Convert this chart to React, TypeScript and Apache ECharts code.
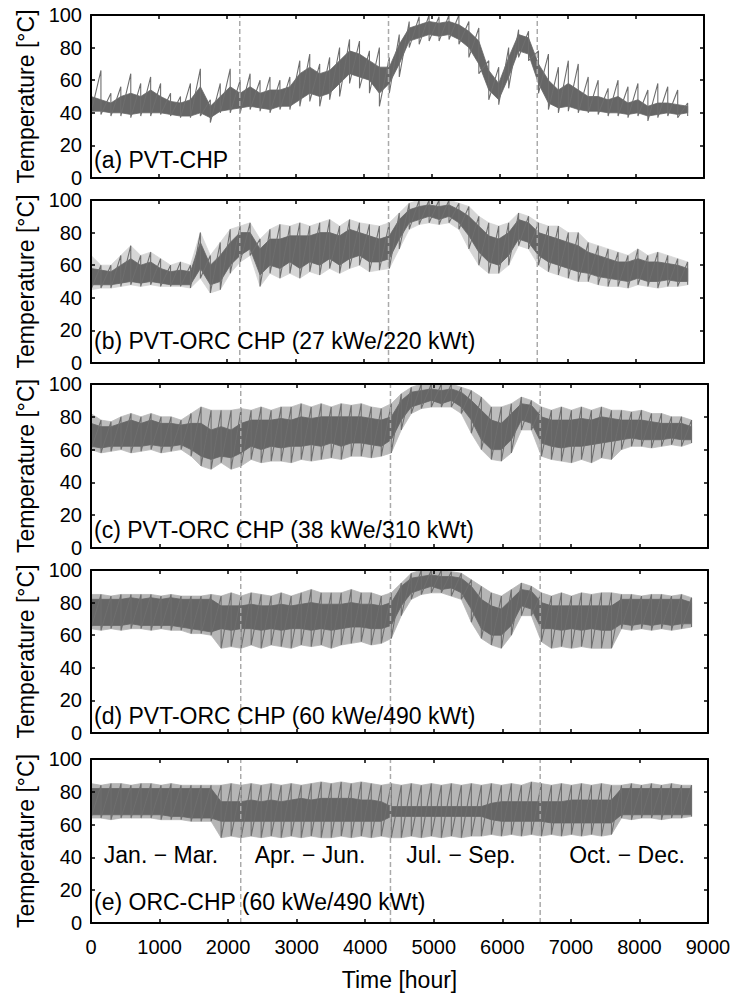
import React, { useEffect, useRef } from "react";
import * as echarts from "echarts";

// Sample hours (every 146 h over the year) at which each trace was read.
const HOURS = [
  0, 146, 292, 438, 584, 730, 876, 1022, 1168, 1314, 1460, 1606, 1752, 1898, 2044, 2190,
  2336, 2482, 2628, 2774, 2920, 3066, 3212, 3358, 3504, 3650, 3796, 3942, 4088, 4234, 4380,
  4526, 4672, 4818, 4964, 5110, 5256, 5402, 5548, 5694, 5840, 5986, 6132, 6278, 6424, 6570,
  6716, 6862, 7008, 7154, 7300, 7446, 7592, 7738, 7884, 8030, 8176, 8322, 8468, 8614, 8760,
];

// For each panel: dense core band (CORE_LO..CORE_HI) and the extreme swings (PEAK_LO..PEAK_HI), °C.
// (a) PVT-CHP
const A_CORE_LO = [41,41,40,40,39,40,40,40,39,38,38,40,37,41,42,43,44,43,42,44,44,48,52,50,52,58,64,62,60,52,58,70,84,86,88,87,88,85,80,70,54,48,62,78,76,58,46,43,44,42,41,41,40,40,39,40,38,39,40,39,40];
const A_CORE_HI = [50,48,46,50,52,50,54,50,47,46,48,56,44,50,56,52,56,52,54,54,56,64,68,64,66,72,78,76,72,68,68,82,92,94,96,95,96,94,90,84,66,58,74,88,86,70,60,54,58,54,50,50,48,50,46,48,44,46,46,45,44];
const A_PEAK_LO = [40,39,38,38,37,38,38,39,38,37,37,38,34,40,40,40,42,41,40,42,42,44,47,44,48,50,58,55,52,44,52,62,80,82,84,84,85,82,74,64,48,45,55,74,72,52,42,40,41,40,40,39,38,38,37,38,35,37,38,37,38];
const A_PEAK_HI = [55,66,52,56,64,58,62,58,52,50,58,67,48,58,67,60,64,60,62,60,62,72,76,70,74,80,85,84,78,80,74,88,96,99,100,99,100,100,96,92,72,68,80,91,90,78,76,68,72,70,62,60,55,60,56,58,54,58,56,54,46];

// (b) PVT-ORC CHP (27 kWe/220 kWt)
const B_CORE_LO = [48,48,48,49,50,49,50,49,48,48,48,58,48,50,60,66,70,54,60,58,62,58,62,60,64,60,64,66,62,62,64,76,86,88,90,88,90,86,78,68,62,60,66,76,74,66,62,60,58,56,55,53,52,51,50,52,50,50,51,50,50];
const B_CORE_HI = [58,57,56,60,64,60,62,58,56,57,56,74,60,66,74,80,80,70,76,76,78,78,78,80,80,78,82,80,78,76,78,88,94,96,97,96,97,94,90,84,78,76,80,88,86,80,78,76,74,72,68,66,64,62,62,64,62,62,61,60,58];
const B_PEAK_LO = [45,46,46,47,48,47,48,47,47,47,46,52,43,45,55,62,66,47,55,52,55,52,56,54,58,55,58,60,56,57,58,70,82,85,86,85,86,82,70,60,55,55,60,72,70,60,56,54,52,50,50,48,47,47,46,48,47,46,47,47,48];
const B_PEAK_HI = [66,60,60,66,72,66,68,64,60,62,60,80,66,74,82,84,86,76,82,85,84,86,84,86,88,84,88,86,85,84,86,92,98,100,100,100,100,98,96,90,86,84,86,92,90,86,84,84,80,80,74,72,70,68,66,70,66,68,66,64,62];

// (c) PVT-ORC CHP (38 kWe/310 kWt)
const C_CORE_LO = [62,61,62,62,62,62,63,62,62,63,60,56,54,56,55,58,62,60,62,61,62,62,63,62,64,62,64,64,63,62,66,78,86,88,90,88,90,86,78,66,60,60,66,78,76,64,62,61,62,62,63,64,65,66,67,66,66,66,67,66,66];
const C_CORE_HI = [76,74,74,76,78,76,78,76,76,75,76,76,72,74,72,76,78,78,78,79,78,80,79,80,80,80,80,80,79,78,80,90,95,96,97,96,97,95,90,84,78,76,82,88,87,80,78,78,78,79,78,80,79,78,78,78,77,76,76,76,74];
const C_PEAK_LO = [60,58,59,60,58,59,60,58,59,60,56,50,48,52,48,50,54,52,53,53,52,54,53,54,55,54,56,56,55,56,58,72,82,85,86,86,86,82,70,60,54,53,58,72,72,56,54,53,52,54,52,55,54,60,62,62,61,62,63,62,64];
const C_PEAK_HI = [82,78,77,80,82,80,82,80,80,78,82,86,84,84,84,85,84,86,84,86,86,88,86,88,86,88,87,88,86,85,88,94,98,100,100,100,100,98,96,92,86,86,88,92,90,86,84,86,84,86,84,86,84,84,83,84,82,82,80,80,78];

// (d) PVT-ORC CHP (60 kWe/490 kWt)
const D_CORE_LO = [66,66,66,66,67,66,66,66,66,65,64,63,62,64,63,64,64,63,64,63,64,64,63,64,63,64,65,65,64,64,66,78,86,88,90,88,89,86,76,64,60,60,66,78,76,64,64,63,64,63,64,63,63,67,66,67,66,67,66,67,67];
const D_CORE_HI = [82,82,82,82,83,82,83,82,83,82,82,82,82,78,78,78,79,78,78,79,78,79,80,79,79,79,80,79,79,78,80,90,95,96,97,96,96,95,90,82,78,76,82,88,87,80,78,78,78,78,78,78,78,82,82,82,82,82,82,82,80];
const D_PEAK_LO = [64,63,64,63,64,64,63,64,63,63,61,61,60,52,53,52,54,52,54,53,52,54,53,54,52,54,55,56,54,55,58,72,82,85,86,86,84,82,68,58,54,52,60,72,72,56,52,53,52,53,52,52,52,64,63,64,63,64,63,64,65];
const D_PEAK_HI = [85,85,84,85,85,85,85,84,85,84,84,84,85,84,86,84,86,85,84,86,84,86,88,86,86,86,88,86,86,84,86,92,98,100,100,100,99,98,94,90,86,84,88,92,90,86,84,86,84,86,85,86,86,85,85,84,85,85,84,85,83];

// (e) ORC-CHP (60 kWe/490 kWt)
const E_CORE_LO = [66,66,66,66,66,66,66,66,65,65,64,64,64,62,62,62,62,62,62,62,62,62,62,62,62,62,62,62,62,62,65,65,65,65,65,65,65,65,65,65,63,62,62,62,62,62,61,61,61,61,61,61,61,66,66,66,66,66,66,66,66];
const E_CORE_HI = [82,82,82,82,82,82,82,82,82,82,82,82,82,74,74,74,75,74,75,74,75,76,75,76,76,76,76,75,75,74,71,71,71,71,71,71,71,71,71,71,73,74,74,74,74,74,74,74,75,75,75,75,75,82,82,82,82,82,82,82,82];
const E_PEAK_LO = [64,64,63,64,64,64,64,63,63,63,62,62,62,52,53,52,53,52,53,52,53,52,53,52,52,53,52,53,52,53,52,52,53,52,53,52,53,52,53,53,54,53,54,53,54,53,54,53,54,53,54,53,54,64,63,64,64,63,64,64,65];
const E_PEAK_HI = [85,84,85,85,84,85,85,84,85,84,84,84,84,84,85,84,85,84,85,84,85,84,85,86,85,86,85,86,85,84,85,84,85,84,85,84,85,84,85,84,85,84,85,84,86,85,84,85,84,85,84,85,84,84,85,84,85,84,85,84,84];

const PANELS = [
  { coreLo: A_CORE_LO, coreHi: A_CORE_HI, peakLo: A_PEAK_LO, peakHi: A_PEAK_HI },
  { coreLo: B_CORE_LO, coreHi: B_CORE_HI, peakLo: B_PEAK_LO, peakHi: B_PEAK_HI },
  { coreLo: C_CORE_LO, coreHi: C_CORE_HI, peakLo: C_PEAK_LO, peakHi: C_PEAK_HI },
  { coreLo: D_CORE_LO, coreHi: D_CORE_HI, peakLo: D_PEAK_LO, peakHi: D_PEAK_HI },
  { coreLo: E_CORE_LO, coreHi: E_CORE_HI, peakLo: E_PEAK_LO, peakHi: E_PEAK_HI },
];
const PANEL_LABELS = [
  "(a) PVT-CHP",
  "(b) PVT-ORC CHP (27 kWe/220 kWt)",
  "(c) PVT-ORC CHP (38 kWe/310 kWt)",
  "(d) PVT-ORC CHP (60 kWe/490 kWt)",
  "(e) ORC-CHP (60 kWe/490 kWt)",
];
const SEASONS = ["Jan. \u2212 Mar.", "Apr. \u2212 Jun.", "Jul. \u2212 Sep.", "Oct. \u2212 Dec."];
const QUARTER_BOUNDS = [2184, 4368, 6552];
const X_MIN = 0;
const X_MAX = 9000;
const X_STEP = 1000;
const Y_MIN = 0;
const Y_MAX = 100;
const Y_STEP = 20;
const X_NAME = "Time [hour]";
const Y_NAME = "Temperature [\u00b0C]";

// Layout (pixels) and styles
const GRIDS = [
  { top: 15, height: 163, width: 613 },
  { top: 200, height: 163, width: 613 },
  { top: 384, height: 164, width: 617 },
  { top: 570, height: 163, width: 617 },
  { top: 759, height: 164, width: 617 },
];
const SWING_FILL = [null, "#d6d6d6", "#bdbdbd", "#b5b5b5", "#b5b5b5"];
const LABEL_Y = [161, 342, 531, 717, 903];
const SEASON_X = [161, 310, 461, 627];
const SEASON_Y = 855;
const FONT = "'Liberation Sans', Arial, Helvetica, sans-serif";
const BAND = "#666666";
const SWING = "#6e6e6e";

export default function App() {
  const ref = useRef<HTMLDivElement>(null);
  useEffect(() => {
    if (!ref.current) return;
    const chart = echarts.init(ref.current, null, { renderer: "svg" });
    const axisLine = { onZero: false, lineStyle: { color: "#000", width: 2 } };
    const axisTick = { inside: true, length: 4, lineStyle: { color: "#000", width: 1.5 } };
    const grid: any[] = [];
    const xAxis: any[] = [];
    const yAxis: any[] = [];
    const series: any[] = [];
    const graphic: any[] = [];
    const bandSeries = (i: number, lo: number[], hi: number[], color: string, z: number) => ({
      type: "custom",
      xAxisIndex: 2 * i,
      yAxisIndex: 2 * i,
      data: HOURS.map((h, k) => [h, lo[k], hi[k]]),
      encode: { x: 0, y: [1, 2] },
      z,
      silent: true,
      renderItem: (params: any, api: any) => {
        if (params.dataIndex !== 0) return null;
        const pts: number[][] = [];
        for (let k = 0; k < HOURS.length; k++) pts.push(api.coord([HOURS[k], hi[k]]));
        for (let k = HOURS.length - 1; k >= 0; k--) pts.push(api.coord([HOURS[k], lo[k]]));
        return {
          type: "polygon",
          shape: { points: pts },
          style: { fill: color, stroke: color, lineWidth: 0.8 },
        };
      },
    });
    GRIDS.forEach((g, i) => {
      grid.push({ left: 91, top: g.top, width: g.width, height: g.height, containLabel: false });
      const last = i === GRIDS.length - 1;
      xAxis.push({
        gridIndex: i, type: "value", position: "bottom", min: X_MIN, max: X_MAX, interval: X_STEP,
        axisLine, axisTick, splitLine: { show: false },
        axisLabel: {
          show: last, color: "#000", fontSize: 20, margin: 14, fontFamily: FONT,
          formatter: (v: number) => String(v),
        },
        name: last ? X_NAME : "", nameLocation: "middle", nameGap: 45,
        nameTextStyle: { color: "#000", fontSize: 23, fontFamily: FONT },
        z: 5,
      });
      xAxis.push({
        gridIndex: i, type: "value", position: "top", min: X_MIN, max: X_MAX, interval: X_STEP,
        axisLine, axisTick, splitLine: { show: false }, axisLabel: { show: false }, z: 5,
      });
      yAxis.push({
        gridIndex: i, type: "value", position: "left", min: Y_MIN, max: Y_MAX, interval: Y_STEP,
        axisLine, axisTick, splitLine: { show: false },
        axisLabel: { color: "#000", fontSize: 20, margin: 9, fontFamily: FONT },
        name: Y_NAME, nameLocation: "middle", nameGap: 54, nameRotate: 90,
        nameTextStyle: { color: "#000", fontSize: 23, fontFamily: FONT },
        z: 5,
      });
      yAxis.push({
        gridIndex: i, type: "value", position: "right", min: Y_MIN, max: Y_MAX, interval: Y_STEP,
        axisLine, axisTick, splitLine: { show: false }, axisLabel: { show: false }, z: 5,
      });
      const p = PANELS[i];
      const sf = SWING_FILL[i];
      if (sf) series.push(bandSeries(i, p.peakLo, p.peakHi, sf, 1));
      series.push(bandSeries(i, p.coreLo, p.coreHi, BAND, 2));
      // extreme swings: a trace running from each peak down to its trough
      const swing: number[][] = [];
      HOURS.forEach((h, k) => {
        swing.push([h, p.peakHi[k]]);
        swing.push([h, p.peakLo[k]]);
      });
      series.push({
        type: "line",
        xAxisIndex: 2 * i,
        yAxisIndex: 2 * i,
        data: swing,
        symbol: "none",
        silent: true,
        z: 2,
        lineStyle: { color: SWING, width: 1.1 },
      });
      QUARTER_BOUNDS.forEach((b) => {
        series.push({
          type: "line",
          xAxisIndex: 2 * i,
          yAxisIndex: 2 * i,
          data: [[b, Y_MIN], [b, Y_MAX]],
          symbol: "none",
          silent: true,
          z: 3,
          lineStyle: { color: "#aaaaaa", width: 1.5, type: [5, 3] },
        });
      });
      graphic.push({
        type: "text", left: 94, top: LABEL_Y[i] - 13, z: 10,
        style: { text: PANEL_LABELS[i], fill: "#000", font: `23px ${FONT}` },
      });
    });
    SEASONS.forEach((s, j) => {
      graphic.push({
        type: "text", x: SEASON_X[j], y: SEASON_Y, z: 10,
        style: { text: s, fill: "#000", font: `23px ${FONT}`, textAlign: "center", textVerticalAlign: "middle" },
      });
    });
    chart.setOption({
      animation: false,
      backgroundColor: "#fff",
      textStyle: { fontFamily: FONT },
      grid, xAxis, yAxis, series, graphic,
    });
    return () => chart.dispose();
  }, []);
  return <div ref={ref} style={{ position: "absolute", left: 0, top: 0, width: 736, height: 994 }} />;
}
